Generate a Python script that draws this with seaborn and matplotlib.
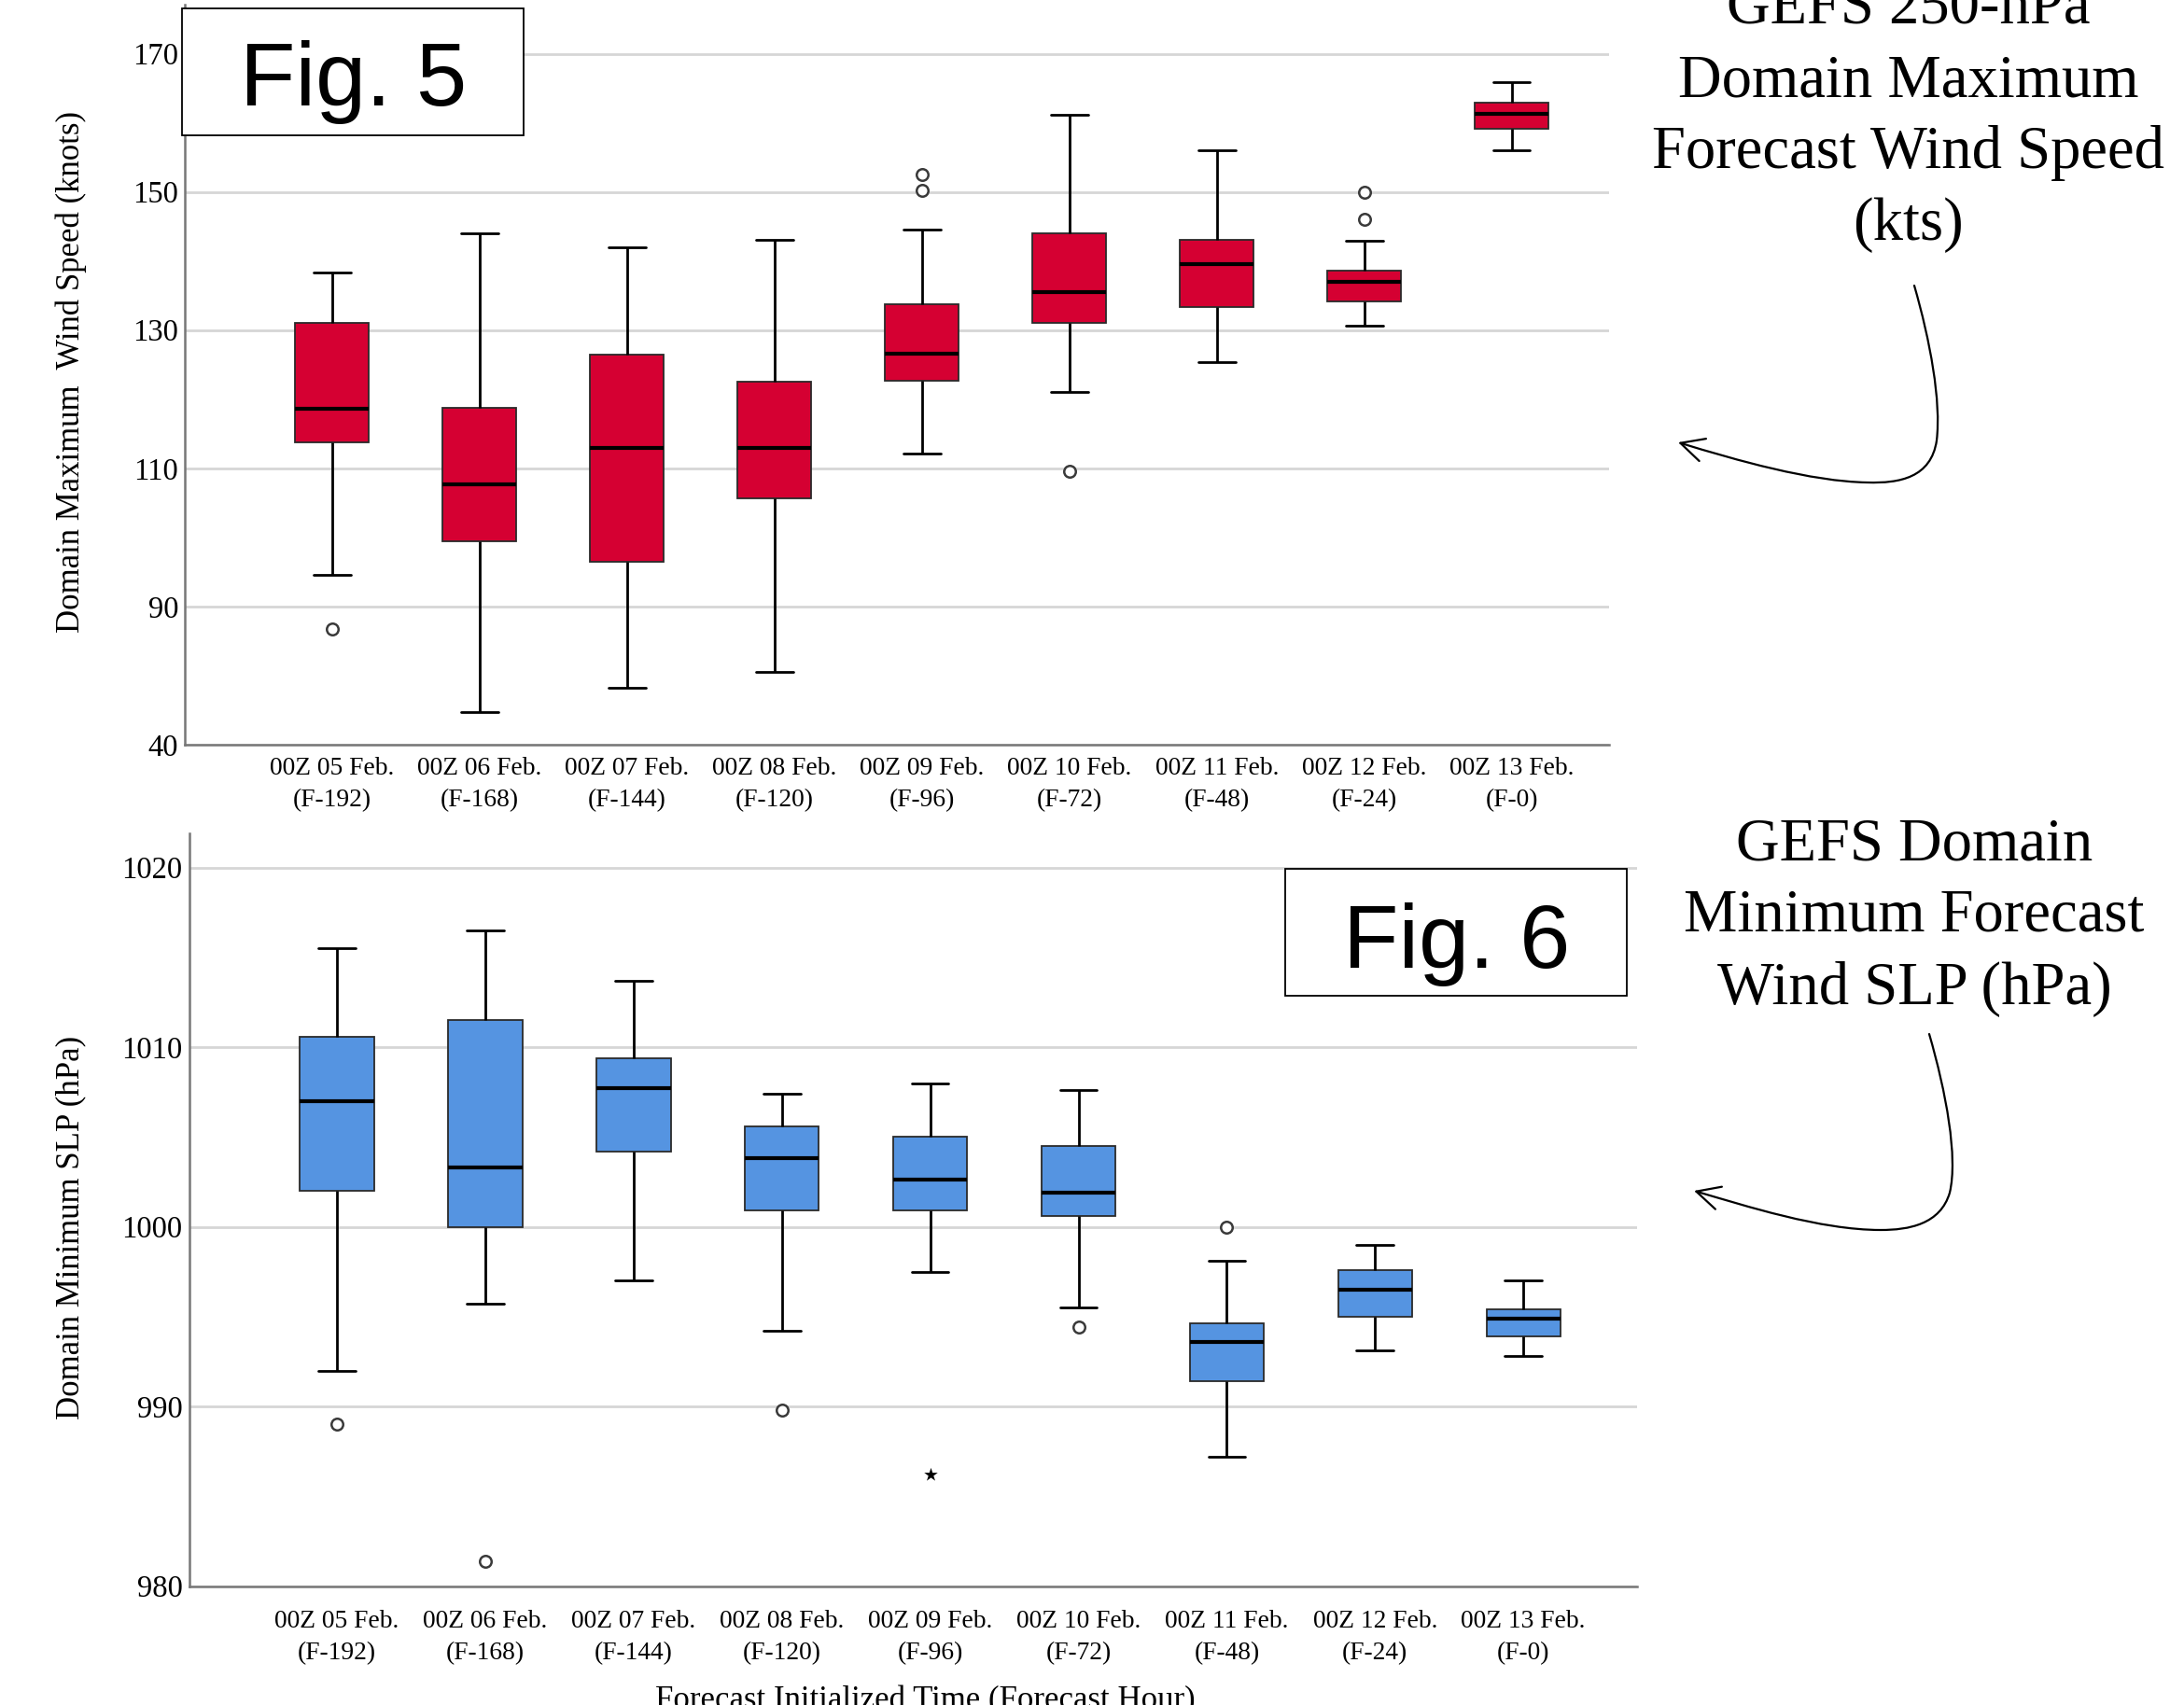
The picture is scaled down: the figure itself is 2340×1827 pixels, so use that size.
import numpy as np
import pandas as pd
import matplotlib
matplotlib.use("Agg")
import matplotlib.pyplot as plt
import seaborn as sns
from matplotlib.patches import Rectangle, FancyArrowPatch
from matplotlib.path import Path

# ---------------- data ----------------
times = ["00Z 05 Feb.\n(F-192)", "00Z 06 Feb.\n(F-168)", "00Z 07 Feb.\n(F-144)",
         "00Z 08 Feb.\n(F-120)", "00Z 09 Feb.\n(F-96)", "00Z 10 Feb.\n(F-72)",
         "00Z 11 Feb.\n(F-48)", "00Z 12 Feb.\n(F-24)", "00Z 13 Feb.\n(F-0)"]

# Fig. 5 : domain maximum 250-hPa wind speed (axis value units)
wind_whislo = [94.6, 74.7, 78.2, 80.5, 112.1, 121.0, 125.4, 130.7, 156.0]
wind_q1     = [113.8, 99.4, 96.5, 105.6, 122.7, 131.1, 133.4, 134.2, 159.2]
wind_med    = [118.6, 107.7, 112.9, 113.0, 126.6, 135.5, 139.6, 137.0, 161.3]
wind_q3     = [131.1, 118.7, 126.4, 122.5, 133.8, 144.0, 143.0, 138.6, 162.9]
wind_whishi = [138.3, 144.0, 142.0, 143.1, 144.5, 161.1, 156.0, 142.9, 165.9]
wind_out_time = [times[0], times[4], times[4], times[5], times[7], times[7]]
wind_out_val  = [86.8, 152.5, 150.2, 109.6, 150.0, 146.0]
wind_yticks = [70, 90, 110, 130, 150, 170]
wind_yticklabels = ["40", "90", "110", "130", "150", "170"]

# Fig. 6 : domain minimum SLP (hPa)
slp_whislo = [992.0, 995.7, 997.0, 994.2, 997.5, 995.5, 987.2, 993.1, 992.8]
slp_q1     = [1002.0, 1000.0, 1004.2, 1000.9, 1000.9, 1000.6, 991.4, 995.0, 993.9]
slp_med    = [1007.0, 1003.3, 1007.7, 1003.8, 1002.6, 1001.9, 993.6, 996.5, 994.9]
slp_q3     = [1010.6, 1011.5, 1009.4, 1005.6, 1005.0, 1004.5, 994.6, 997.6, 995.4]
slp_whishi = [1015.5, 1016.5, 1013.7, 1007.4, 1008.0, 1007.6, 998.1, 999.0, 997.0]
slp_out_time = [times[0], times[1], times[3], times[5], times[6]]
slp_out_val  = [989.0, 981.4, 989.8, 994.4, 1000.0]
slp_ext_time = [times[4]]
slp_ext_val  = [986.2]
slp_yticks = [980, 990, 1000, 1010, 1020]

RED = "#D50032"
BLUE = "#5594E1"


def box_frame(lo, q1, med, q3, hi):
    rows = []
    for t, vals in zip(times, zip(lo, q1, med, q3, hi)):
        for v in vals:
            rows.append((t, v))
    return pd.DataFrame(rows, columns=["time", "value"])


wind_df = box_frame(wind_whislo, wind_q1, wind_med, wind_q3, wind_whishi)
slp_df = box_frame(slp_whislo, slp_q1, slp_med, slp_q3, slp_whishi)
wind_out = pd.DataFrame({"time": wind_out_time, "value": wind_out_val})
slp_out = pd.DataFrame({"time": slp_out_time, "value": slp_out_val})
slp_ext = pd.DataFrame({"time": slp_ext_time, "value": slp_ext_val})

# ---------------- style ----------------
sns.set_style("white")
plt.rcParams["font.family"] = ["Liberation Serif", "DejaVu Serif"]
plt.rcParams["text.color"] = "black"

W, H = 2340, 1827
def fx(x): return x / W
def fy(y): return 1 - y / H

fig = plt.figure(figsize=(W / 100, H / 100), dpi=100)
ax1 = fig.add_axes([fx(198), fy(798), (1724 - 198) / W, (798 - 5) / H])
ax2 = fig.add_axes([fx(202.6), fy(1699.5), (1753.8 - 202.6) / W, (1699.5 - 893) / H])

box_kws = dict(x="time", y="value", order=times, width=0.5, whis=(0, 100),
               showfliers=False, saturation=1, linecolor="#222222", linewidth=1.3,
               medianprops=dict(color="black", linewidth=3.0),
               whiskerprops=dict(color="black", linewidth=2.0),
               capprops=dict(color="black", linewidth=2.0),
               boxprops=dict(edgecolor="#2a2a2a", linewidth=1.3))

sns.boxplot(data=wind_df, color=RED, ax=ax1, **box_kws)
sns.boxplot(data=slp_df, color=BLUE, ax=ax2, **box_kws)

strip_kws = dict(x="time", y="value", order=times, jitter=False, color="white",
                 edgecolor="#3a3a3a", linewidth=1.8, size=9, zorder=4)
sns.stripplot(data=wind_out, ax=ax1, **strip_kws)
sns.stripplot(data=slp_out, ax=ax2, **strip_kws)
sns.stripplot(data=slp_ext, x="time", y="value", order=times, jitter=False,
              color="black", marker="*", size=11, linewidth=0, zorder=4, ax=ax2)

ax1.set_ylim(70, 177.1)
ax1.set_yticks(wind_yticks)
ax1.set_yticklabels(wind_yticklabels)
ax1.set_xlim(-1.0, 8.66)
ax2.set_ylim(980, 1021.9)
ax2.set_yticks(slp_yticks)
ax2.set_xlim(-0.997, 8.765)

for ax, xpad in ((ax1, 9), (ax2, 18)):
    ax.set_xlabel("")
    ax.set_ylabel("")
    for s in ("top", "right"):
        ax.spines[s].set_visible(False)
    for s in ("left", "bottom"):
        ax.spines[s].set_color("#777777")
        ax.spines[s].set_linewidth(1.8)
    ax.yaxis.grid(True, color="#d6d6d6", linewidth=2.0)
    ax.xaxis.grid(False)
    ax.set_axisbelow(True)
    ax.tick_params(axis="y", length=0, pad=5, labelsize=23.5, labelcolor="black")
    ax.tick_params(axis="x", length=0, pad=xpad, labelsize=19.8, labelcolor="black")
    ax.set_xticks(range(len(times)))
    ax.set_xticklabels(times, linespacing=1.5)

# axis titles
fig.text(fx(76), fy(398), "Domain Maximum  Wind Speed (knots)", rotation=90,
         ha="center", va="center", fontsize=25)
fig.text(fx(76), fy(1315), "Domain Minimum SLP (hPa)", rotation=90,
         ha="center", va="center", fontsize=25)
fig.text(fx(991), fy(1831), "Forecast Initialized Time (Forecast Hour)",
         ha="center", va="baseline", fontsize=25)

# Fig. labels in boxes
for (x0, y0, x1, y1), (tx, ty), lab in (((195, 8.6, 561.4, 144.7), (379, 113), "Fig. 5"),
                                        ((1377, 931, 1743, 1067), (1561, 1037), "Fig. 6")):
    fig.add_artist(Rectangle((fx(x0), fy(y1)), (x1 - x0) / W, (y1 - y0) / H,
                             transform=fig.transFigure, facecolor="white",
                             edgecolor="black", linewidth=1.3, zorder=5))
    fig.text(fx(tx), fy(ty), lab, family="Liberation Sans", fontsize=70,
             ha="center", va="baseline", zorder=6, color="black")

# right-hand annotations
for txt, y in (("GEFS 250-hPa", 26), ("Domain Maximum", 103),
               ("Forecast Wind Speed", 180), ("(kts)", 257)):
    fig.text(fx(2045), fy(y), txt, ha="center", va="baseline", fontsize=46.5,
             color="black")
for txt, y in (("GEFS Domain", 921), ("Minimum Forecast", 998),
               ("Wind SLP (hPa)", 1076)):
    fig.text(fx(2051), fy(y), txt, ha="center", va="baseline", fontsize=46.5,
             color="black")


def curved_arrow(pts):
    verts = [(fx(x), fy(y)) for x, y in pts]
    codes = [Path.MOVETO] + [Path.CURVE4] * (len(verts) - 1)
    arr = FancyArrowPatch(path=Path(verts, codes), transform=fig.transFigure,
                          arrowstyle="->,head_length=0.9,head_width=0.45",
                          mutation_scale=20, linewidth=1.6, color="black", zorder=6)
    fig.add_artist(arr)


curved_arrow([(2051, 306), (2068, 365), (2080, 430), (2075, 472),
              (2069, 512), (2035, 518), (2001, 517),
              (1940, 516), (1860, 493), (1798, 474)])
curved_arrow([(2067, 1108), (2085, 1170), (2098, 1240), (2089, 1278),
              (2079, 1312), (2045, 1318), (2015, 1318),
              (1950, 1318), (1870, 1292), (1815, 1276)])

fig.savefig("out.png", dpi=100)
